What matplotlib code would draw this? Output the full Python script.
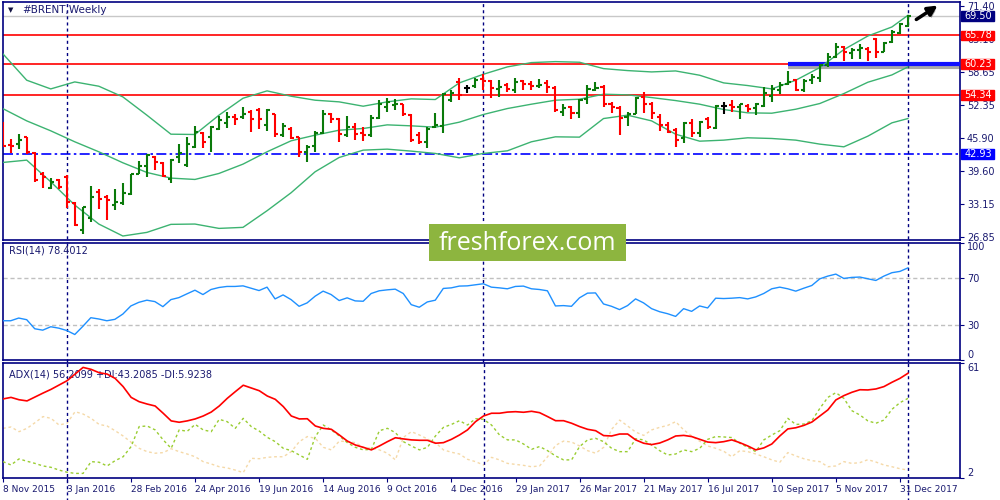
import numpy as np
import matplotlib
matplotlib.use("Agg")
import matplotlib.pyplot as plt
import matplotlib.patheffects as pe
from matplotlib.patches import Rectangle

# weekly bars, 8 Nov 2015 .. 7 Jan 2018
date_labels = ["8 Nov 2015", "3 Jan 2016", "28 Feb 2016", "24 Apr 2016", "19 Jun 2016",
               "14 Aug 2016", "9 Oct 2016", "4 Dec 2016", "29 Jan 2017", "26 Mar 2017",
               "21 May 2017", "16 Jul 2017", "10 Sep 2017", "5 Nov 2017", "31 Dec 2017"]

opens = [48.9, 44.6, 44.9, 46.1, 43.1, 39.1, 36.4, 37.9, 38.5, 33.4,
         28.2, 30.5, 35.6, 34.6, 33.0, 33.4, 35.2, 39.1, 40.6, 42.4,
         41.2, 38.0, 42.4, 40.7, 44.3, 47.0, 46.2, 47.8, 48.9, 50.1,
         50.1, 51.0, 51.4, 48.5, 50.6, 46.5, 47.8, 46.1, 43.3, 44.4,
         47.0, 50.6, 49.7, 46.5, 48.1, 46.9, 46.5, 49.9, 52.0, 52.3,
         52.5, 50.4, 46.5, 45.2, 48.1, 48.3, 53.3, 56.8, 55.7, 56.0,
         57.3, 57.0, 55.5, 56.2, 55.2, 56.9, 56.5, 56.0, 56.6, 55.7,
         51.0, 51.9, 50.8, 53.6, 55.3, 55.9, 52.6, 51.7, 50.1, 50.7,
         53.9, 52.6, 50.1, 48.5, 47.5, 45.9, 48.8, 47.0, 49.7, 48.0,
         52.1, 52.3, 52.0, 52.1, 51.7, 52.1, 54.0, 55.2, 56.4, 57.1,
         55.2, 57.1, 57.5, 60.0, 61.6, 63.6, 62.4, 62.9, 63.2, 65.0,
         62.6, 64.5, 66.3, 67.7]
highs = [49.1, 45.7, 46.7, 46.2, 43.3, 39.5, 38.2, 38.0, 38.8, 33.7,
         32.7, 36.7, 36.1, 34.9, 36.1, 37.3, 39.1, 41.6, 42.9, 42.6,
         41.4, 41.9, 44.8, 46.1, 48.3, 47.2, 48.3, 50.2, 51.0, 50.7,
         52.0, 51.4, 51.7, 51.5, 50.7, 48.9, 48.1, 46.2, 44.6, 47.3,
         51.4, 50.8, 49.9, 50.2, 48.8, 48.1, 50.4, 53.3, 53.8, 53.6,
         52.6, 50.7, 47.2, 48.1, 50.8, 54.6, 55.3, 57.5, 56.3, 57.5,
         58.4, 57.1, 57.1, 56.6, 57.5, 57.1, 56.9, 57.3, 57.1, 56.0,
         52.6, 52.1, 53.6, 56.2, 56.8, 56.2, 52.9, 52.1, 51.0, 53.9,
         54.9, 52.9, 50.7, 49.1, 47.9, 49.1, 49.7, 49.3, 50.1, 52.3,
         52.9, 53.4, 52.6, 52.5, 52.8, 55.9, 56.2, 56.8, 58.9, 57.3,
         57.3, 58.3, 60.2, 62.3, 64.4, 63.7, 63.4, 64.2, 63.6, 65.2,
         64.5, 66.8, 68.2, 69.8]
lows = [44.3, 43.1, 43.8, 42.9, 37.5, 36.4, 36.1, 36.2, 32.4, 28.9,
        27.4, 29.8, 32.2, 30.1, 32.1, 33.0, 35.0, 39.0, 38.5, 39.8,
        38.5, 37.2, 41.2, 40.4, 44.0, 44.1, 43.3, 47.6, 48.0, 48.5,
        49.7, 47.2, 47.8, 47.4, 46.2, 46.1, 45.7, 42.4, 41.4, 43.3,
        46.7, 48.9, 45.2, 46.2, 45.6, 45.4, 46.1, 49.7, 51.0, 51.4,
        50.2, 45.2, 44.8, 44.1, 48.0, 46.9, 52.9, 53.4, 54.7, 55.7,
        55.3, 53.8, 53.9, 54.9, 54.6, 55.2, 55.2, 55.7, 54.7, 51.0,
        50.2, 49.7, 49.9, 52.6, 55.1, 51.9, 50.9, 46.5, 48.3, 50.6,
        50.8, 49.7, 47.4, 46.9, 44.3, 45.1, 46.2, 46.1, 47.8, 47.8,
        50.7, 51.0, 49.7, 51.0, 50.4, 51.9, 52.9, 54.4, 56.2, 55.1,
        54.9, 56.5, 56.8, 59.7, 61.5, 60.8, 61.3, 61.3, 60.9, 61.5,
        62.5, 64.3, 66.0, 67.4]
closes = [44.4, 44.4, 45.6, 43.3, 37.9, 38.4, 37.5, 36.6, 33.7, 29.2,
          32.6, 34.6, 34.3, 34.1, 33.7, 35.4, 39.0, 40.6, 42.7, 41.4,
          38.6, 41.8, 43.0, 44.9, 47.2, 45.2, 48.1, 49.4, 50.1, 49.7,
          50.6, 49.7, 49.7, 51.4, 46.7, 48.3, 45.9, 43.3, 44.3, 47.0,
          50.7, 49.7, 46.7, 48.1, 46.7, 46.5, 49.9, 52.5, 52.9, 52.6,
          50.7, 45.6, 45.2, 47.8, 48.5, 54.4, 54.7, 54.2, 55.7, 57.1,
          57.0, 55.7, 55.9, 55.5, 56.8, 56.5, 56.0, 56.2, 55.9, 51.4,
          51.7, 50.8, 53.4, 55.5, 55.7, 52.5, 51.9, 49.9, 50.7, 53.8,
          52.6, 50.8, 48.5, 47.2, 45.6, 48.8, 46.9, 49.1, 48.1, 52.1,
          52.1, 52.0, 52.5, 51.5, 52.5, 54.7, 55.5, 56.2, 56.8, 55.3,
          57.0, 57.7, 60.0, 61.6, 63.6, 62.6, 63.0, 63.4, 62.6, 62.6,
          64.4, 66.5, 67.9, 69.5]

# Bollinger bands read every 3rd bar
bb_bars = [0, 3, 6, 9, 12, 15, 18, 21, 24, 27, 30, 33, 36, 39, 42, 45, 48, 51, 54, 57,
           60, 63, 66, 69, 72, 75, 78, 81, 84, 87, 90, 93, 96, 99, 102, 105, 108, 111, 113]
bb_upper = [62.28, 57.14, 55.46, 56.81, 55.98, 53.92, 50.39, 46.72, 46.66, 50.39,
            53.66, 55.08, 54.05, 53.28, 52.96, 52.12, 52.96, 53.54, 53.41, 56.62,
            58.29, 59.71, 60.54, 60.73, 60.61, 59.38, 59.00, 58.74, 58.93, 58.10,
            56.62, 56.11, 55.46, 57.14, 59.58, 63.05, 65.68, 67.42, 69.67]
bb_middle = [51.67, 49.29, 47.37, 45.25, 43.32, 41.20, 39.33, 38.24, 37.98, 39.14,
             40.94, 43.32, 45.44, 46.53, 47.49, 47.82, 48.52, 48.33, 48.07, 49.04,
             50.52, 51.67, 52.51, 53.28, 53.47, 54.44, 54.31, 53.79, 53.21, 52.51,
             51.48, 50.84, 50.77, 51.54, 52.64, 54.56, 56.75, 58.16, 59.71]
bb_lower = [41.26, 41.71, 37.53, 33.03, 29.37, 27.06, 27.76, 29.31, 29.37, 28.53,
            28.73, 31.94, 35.41, 39.46, 42.22, 43.64, 43.83, 43.45, 43.00, 42.16,
            43.00, 43.51, 45.25, 46.21, 46.15, 49.74, 50.39, 49.29, 46.72, 45.37,
            45.57, 46.02, 45.89, 45.57, 44.80, 44.28, 46.34, 48.91, 49.74]

rsi = [33.4, 33.4, 35.7, 34.3, 26.6, 25.4, 28.3, 27.1, 25.1, 21.7,
       28.6, 36.0, 34.9, 33.4, 34.6, 39.1, 46.0, 49.1, 50.9, 49.7,
       45.4, 51.4, 53.1, 56.3, 59.4, 55.7, 60.0, 61.7, 62.6, 62.6,
       63.1, 61.1, 59.1, 62.0, 52.0, 55.4, 51.4, 45.7, 48.6, 54.3,
       58.6, 55.7, 50.6, 52.9, 50.3, 50.0, 56.6, 58.9, 59.7, 60.3,
       56.6, 47.1, 44.9, 49.4, 50.9, 60.9, 61.4, 62.9, 63.1, 64.0,
       64.9, 62.0, 61.4, 60.6, 62.6, 62.9, 60.6, 60.0, 58.9, 46.0,
       46.3, 45.7, 52.9, 56.9, 57.1, 47.7, 45.7, 42.9, 46.3, 52.0,
       48.6, 43.7, 41.1, 39.4, 37.1, 43.7, 41.4, 46.0, 44.3, 52.6,
       52.3, 52.6, 53.1, 52.0, 53.7, 56.6, 60.6, 62.0, 60.6, 58.6,
       61.1, 63.4, 69.1, 71.4, 73.1, 69.4, 70.3, 70.6, 69.1, 67.7,
       71.4, 74.3, 75.4, 78.4]

adx = [42.5, 43.3, 42.1, 41.5, 43.5, 45.5, 47.4, 49.6, 51.8, 55.2,
       58.6, 57.6, 55.9, 55.2, 53.0, 48.8, 43.3, 41.1, 39.9, 38.9,
       35.2, 31.3, 30.6, 31.3, 32.3, 33.8, 35.8, 38.9, 42.8, 46.2,
       49.5, 48.1, 46.7, 44.0, 42.3, 38.6, 33.8, 32.3, 32.4, 28.7,
       27.5, 27.0, 24.1, 21.0, 19.0, 17.8, 16.5, 18.5, 20.7, 22.7,
       22.1, 21.6, 21.4, 21.4, 19.9, 20.2, 21.9, 24.1, 26.7, 30.9,
       33.8, 35.2, 35.2, 35.8, 36.0, 35.7, 36.2, 35.5, 33.5, 31.4,
       31.4, 30.1, 28.4, 27.0, 26.3, 23.8, 23.6, 24.6, 24.6, 21.6,
       19.9, 19.2, 20.0, 21.6, 23.6, 23.9, 23.3, 21.9, 20.5, 20.2,
       20.7, 21.6, 20.2, 18.5, 16.5, 17.5, 19.5, 23.6, 27.2, 27.8,
       29.0, 30.7, 33.8, 36.9, 42.0, 44.2, 45.9, 47.2, 47.1, 47.6,
       48.8, 51.0, 53.0, 55.6]
plus_di = [10.5, 8.8, 11.9, 10.7, 9.6, 8.3, 7.6, 6.2, 5.1, 4.5,
           4.5, 10.5, 10.2, 8.3, 11.0, 13.0, 18.2, 28.4, 28.7, 26.7,
           21.6, 17.3, 26.7, 26.0, 29.5, 26.7, 25.8, 32.1, 30.9, 27.5,
           32.6, 28.4, 26.1, 22.9, 20.7, 17.3, 16.1, 13.9, 11.7, 23.3,
           29.2, 26.7, 23.6, 20.2, 17.8, 16.5, 16.8, 26.3, 27.5, 25.3,
           20.7, 18.5, 16.5, 17.8, 23.6, 28.0, 29.5, 31.4, 29.2, 32.4,
           32.1, 29.2, 24.1, 21.6, 21.6, 19.5, 16.8, 18.2, 16.1, 13.4,
           11.4, 11.4, 18.2, 21.6, 22.4, 20.7, 17.3, 15.6, 15.6, 22.2,
           21.6, 19.0, 16.1, 13.9, 14.4, 16.5, 15.6, 17.3, 21.9, 23.3,
           23.1, 22.8, 19.9, 17.8, 15.6, 21.6, 24.1, 26.3, 32.6, 29.5,
           29.7, 31.4, 37.7, 43.3, 45.7, 42.8, 36.5, 34.3, 31.3, 30.1,
           31.7, 37.2, 40.6, 42.8]
minus_di = [27.5, 28.2, 25.8, 27.5, 30.4, 33.5, 32.6, 29.2, 30.1, 36.0,
            34.8, 32.6, 29.5, 28.7, 26.3, 23.6, 20.4, 17.3, 15.6, 14.8,
            15.1, 17.1, 15.6, 14.4, 13.0, 10.5, 9.3, 7.9, 7.3, 6.2,
            4.9, 12.2, 12.0, 12.7, 13.0, 13.0, 15.6, 20.7, 23.3, 22.4,
            17.8, 16.5, 21.0, 20.7, 20.2, 17.8, 17.3, 16.5, 14.8, 11.4,
            22.9, 25.8, 24.1, 22.1, 20.2, 16.5, 15.3, 14.4, 11.7, 10.5,
            8.8, 12.7, 11.4, 9.6, 9.1, 8.6, 7.9, 8.3, 13.0, 18.8,
            21.0, 20.5, 18.5, 16.1, 14.8, 17.8, 27.0, 31.7, 28.7, 25.6,
            23.9, 26.7, 28.0, 29.0, 30.9, 26.7, 23.6, 20.9, 18.5, 17.3,
            15.8, 13.0, 16.1, 15.6, 14.4, 13.0, 11.4, 10.2, 15.1, 13.4,
            12.0, 11.0, 10.5, 7.9, 8.3, 10.5, 9.6, 10.0, 11.5, 10.3,
            8.8, 7.9, 6.9, 6.2]

levels = [65.78, 60.23, 54.34]
support = 42.93
last_price = 69.50
breakout_from = 98          # bar where the thick blue line starts
separators = [8, 60, 113]   # year separators

NAVY = "#000080"
TXT = "#1a1a70"
n = len(closes)
bars = np.arange(n)
o, h, l, c = map(np.array, (opens, highs, lows, closes))
cols = np.where(c > o, "#0a7a0a", np.where(c < o, "#ff0000", "#000000"))

W, H = 1000, 500
fig = plt.figure(figsize=(10, 5), dpi=100)
fig.patch.set_facecolor("white")


def panel(y0, y1):
    a = fig.add_axes([3 / W, 1 - y1 / H, 957 / W, (y1 - y0) / H])
    for s in a.spines.values():
        s.set_color(NAVY)
        s.set_linewidth(1.2)
    a.set_xlim(0.04, 119.5)
    a.yaxis.tick_right()
    a.tick_params(axis="y", colors=NAVY, labelcolor=TXT, labelsize=7, length=3, pad=2)
    a.tick_params(axis="x", bottom=False, labelbottom=False)
    return a


ax = panel(2, 240)
ax_rsi = panel(242.5, 360)
ax_adx = panel(362.7, 478.3)

# ---- price panel
ax.set_ylim(26.29, 72.24)
ax.set_yticks([26.85, 33.15, 39.60, 45.90, 52.35, 58.65, 65.10, 71.40])
ax.set_yticklabels(["26.85", "33.15", "39.60", "45.90", "52.35", "58.65", "65.10", "71.40"])

ax.axhline(last_price, color="#c8c8c8", lw=1, zorder=1)
for lv in levels:
    ax.axhline(lv, color="#ff0000", lw=1.2, zorder=2)
ax.axhline(support, color="#0000ff", lw=1.2, ls=(0, (6, 2, 1.5, 2)), zorder=2)
ax.plot([breakout_from, 119.5], [levels[1], levels[1]], color="#1010ff", lw=3, zorder=3,
        solid_capstyle="butt",
        path_effects=[pe.SimpleLineShadow(offset=(0, -2), shadow_color="#404040", alpha=0.45),
                      pe.Normal()])

for band in (bb_upper, bb_middle, bb_lower):
    ax.plot(bb_bars, band, color="#3cb371", lw=1, zorder=3)

ax.vlines(bars, l, h, colors=cols, lw=1.5, zorder=4)
ax.hlines(o, bars - 0.38, bars, colors=cols, lw=1.5, zorder=4)
ax.hlines(c, bars, bars + 0.38, colors=cols, lw=1.5, zorder=4)

# price tags on the right scale
ytr = ax.get_yaxis_transform()
for val, bg in [(last_price, NAVY), (levels[0], "#ff0000"), (levels[1], "#ff0000"),
                (levels[2], "#ff0000"), (support, "#0000ff")]:
    ax.add_patch(Rectangle((1.0015, val - 0.95), 0.0345, 1.9, transform=ytr, clip_on=False,
                           facecolor=bg, edgecolor=bg, zorder=9))
    ax.text(1.0045, val, f"{val:.2f}", transform=ytr, ha="left", va="center",
            color="white", fontsize=7, clip_on=False, zorder=10)

fig.text(8 / W, 1 - 10 / H, "\u25BC", fontsize=5, color="#101040", va="center")
fig.text(22 / W, 1 - 10 / H, "#BRENT,Weekly", fontsize=7.5, color=TXT, va="center")

# ---- RSI panel
ax_rsi.set_ylim(0, 100)
ax_rsi.plot(bars, rsi, color="#1e90ff", lw=1, zorder=3)
for lv in (70, 30):
    ax_rsi.axhline(lv, color="#c0c0c0", lw=1, ls=(0, (3, 2)), zorder=1)
ax_rsi.set_yticks([0, 30, 70, 100])
ax_rsi.set_yticklabels(["0", "30", "70", "100"])
rl = ax_rsi.get_yticklabels()
rl[0].set_va("bottom")
rl[-1].set_va("top")
ax_rsi.text(0.006, 0.93, "RSI(14) 78.4012", transform=ax_rsi.transAxes,
            fontsize=7, color=TXT, va="center")

# ---- ADX panel
ax_adx.set_ylim(2, 61)
ax_adx.plot(bars, minus_di, color="#f5d9a8", lw=1, ls=(0, (2, 2)), zorder=2)
ax_adx.plot(bars, plus_di, color="#9acd32", lw=1, ls=(0, (2, 2)), zorder=3)
ax_adx.plot(bars, adx, color="#ff0000", lw=1.2, zorder=4)
ax_adx.set_yticks([2, 61])
ax_adx.set_yticklabels(["2", "61"])
al = ax_adx.get_yticklabels()
al[0].set_va("bottom")
al[1].set_va("top")
ax_adx.text(0.006, 0.9, "ADX(14) 56.2099 +DI:43.2085 -DI:5.9238", transform=ax_adx.transAxes,
            fontsize=7, color=TXT, va="center")

ax_adx.tick_params(axis="x", bottom=True, labelbottom=True, colors=NAVY, labelcolor=TXT,
                   labelsize=6.5, length=3, pad=2)
ax_adx.set_xticks(bars[::8])
ax_adx.set_xticklabels(date_labels, ha="left")

for a in (ax, ax_rsi):
    for s in separators:
        a.axvline(s, ymin=-0.02, ymax=1.0, color=NAVY, lw=1, ls=(0, (2.2, 2.2)), clip_on=False, zorder=2)
for s in separators:
    ax_adx.axvline(s, ymin=-0.2, ymax=1.02, color=NAVY, lw=1, ls=(0, (2.2, 2.2)), clip_on=False, zorder=2)

# arrow at top right
arr = ax.annotate("", xy=(940 / W, 1 - 4 / H), xytext=(914 / W, 1 - 21 / H),
                  xycoords="figure fraction", textcoords="figure fraction",
                  arrowprops=dict(arrowstyle="-|>", color="black", lw=2.5, mutation_scale=14),
                  annotation_clip=False)
arr.arrow_patch.set_path_effects([pe.SimplePatchShadow(offset=(1, -2), alpha=0.35), pe.Normal()])

# watermark
fig.add_artist(Rectangle((429 / W, 1 - 261 / H), 197 / W, 37 / H, transform=fig.transFigure,
                         facecolor="#8db53f", edgecolor="none", zorder=20))
fig.text(527 / W, 1 - 243 / H, "freshforex.com", fontsize=18, color="white", family="Open Sans",
         ha="center", va="center", zorder=21)

fig.savefig("out.png", dpi=100)
